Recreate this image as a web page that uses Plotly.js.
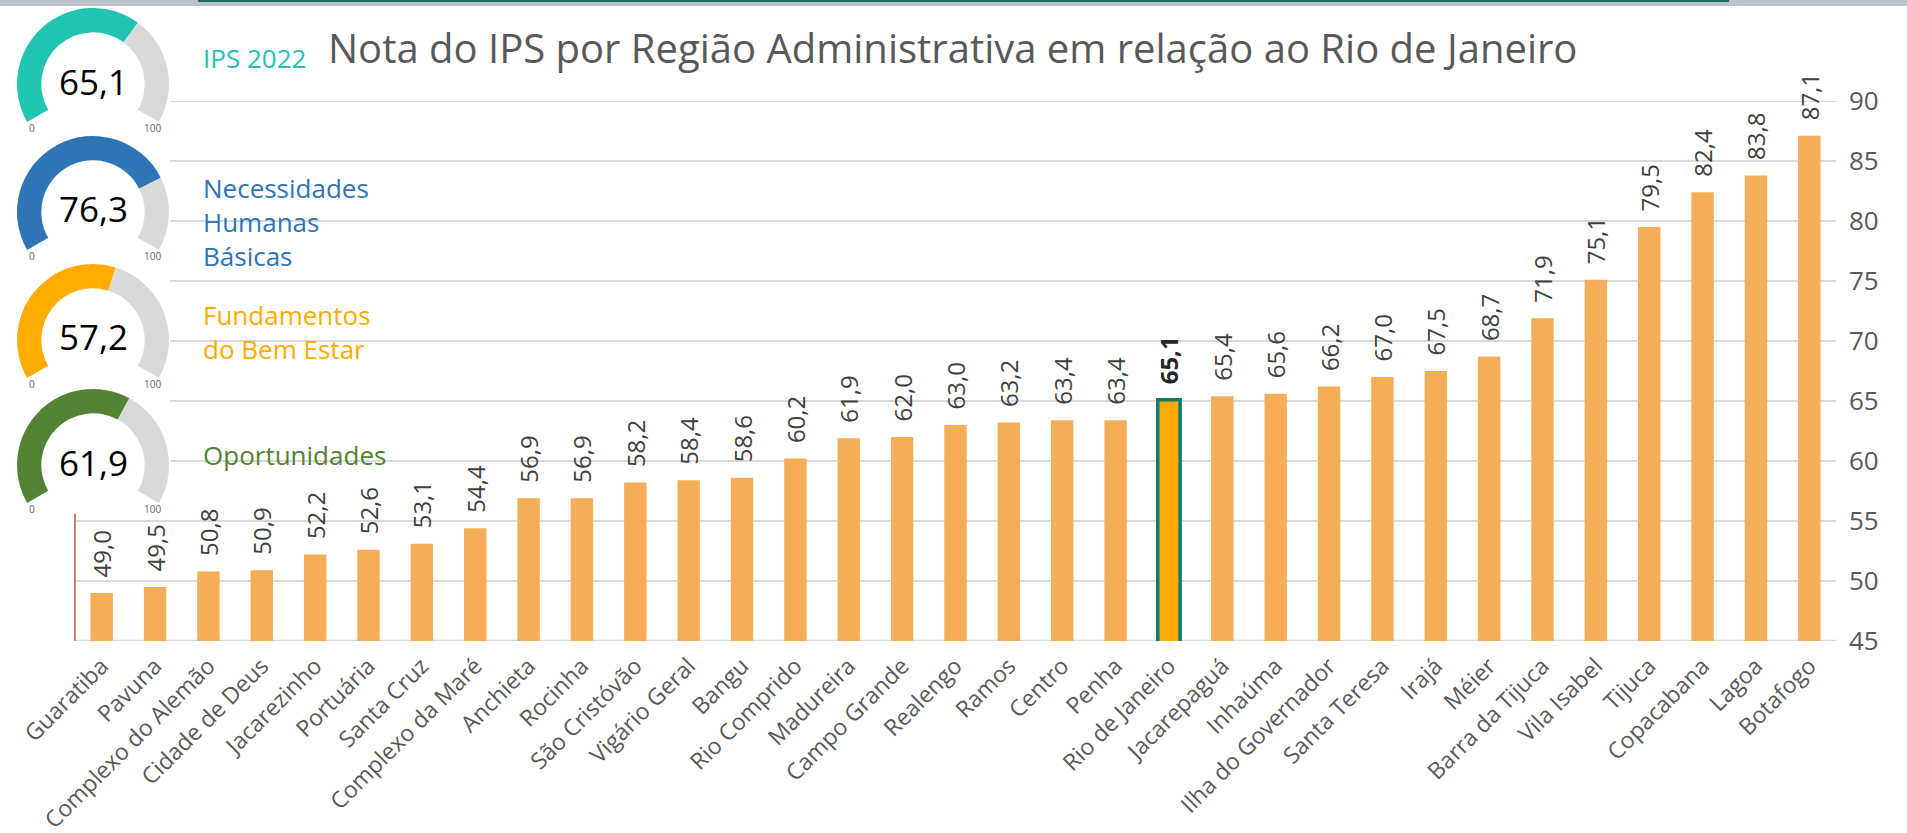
<!DOCTYPE html>
<html>
<head>
<meta charset="utf-8">
<script src="https://cdn.plot.ly/plotly-3.0.1.min.js"></script>
<style>
  body { margin: 0; background: #fff; }
  #myPlot { width: 1907px; height: 833px; }
</style>
</head>
<body>
<div id="myPlot"></div>
<script>
// Regiões administrativas e nota do IPS 2022
var regioes = ["Guaratiba", "Pavuna", "Complexo do Alemão", "Cidade de Deus", "Jacarezinho",
    "Portuária", "Santa Cruz", "Complexo da Maré", "Anchieta", "Rocinha", "São Cristóvão",
    "Vigário Geral", "Bangu", "Rio Comprido", "Madureira", "Campo Grande", "Realengo", "Ramos",
    "Centro", "Penha", "Rio de Janeiro", "Jacarepaguá", "Inhaúma", "Ilha do Governador",
    "Santa Teresa", "Irajá", "Méier", "Barra da Tijuca", "Vila Isabel", "Tijuca",
    "Copacabana", "Lagoa", "Botafogo"];
var notas = [49.0, 49.5, 50.8, 50.9, 52.2, 52.6, 53.1, 54.4, 56.9, 56.9, 58.2,
    58.4, 58.6, 60.2, 61.9, 62.0, 63.0, 63.2, 63.4, 63.4, 65.1, 65.4, 65.6, 66.2,
    67.0, 67.5, 68.7, 71.9, 75.1, 79.5, 82.4, 83.8, 87.1];
var destaque = "Rio de Janeiro";

// Indicadores dos velocímetros
var gaugeNomes = ["IPS 2022", "Necessidades<br>Humanas<br>Básicas", "Fundamentos<br>do Bem Estar", "Oportunidades"];
var gaugeValores = [65.1, 76.3, 57.2, 61.9];
var gaugeCores = ["#20C4B0", "#2E75B6", "#FFAB00", "#548235"];

var yTicks = [45, 50, 55, 60, 65, 70, 75, 80, 85, 90];

var W = 1907, H = 833;
var FONT = "Open Sans";

function fmt(v) { return v.toFixed(1).replace(".", ","); }

var barText = [], barColors = [], lineColors = [], lineWidths = [], textColors = [];
for (var i = 0; i < regioes.length; i++) {
    var hi = regioes[i] === destaque;
    barText.push(hi ? "\u00A0\u00A0<b>" + fmt(notas[i]) + "</b>" : "\u00A0\u00A0" + fmt(notas[i]));
    barColors.push(hi ? "#FFA800" : "#F4AE57");
    lineColors.push(hi ? "#0F7B6C" : "#F4AE57");
    lineWidths.push(hi ? 3.5 : 0);
    textColors.push(hi ? "#262626" : "#404040");
}

var data = [{
    type: "bar",
    x: regioes,
    y: notas,
    text: barText,
    textposition: "outside",
    textangle: -90,
    constraintext: "none",
    cliponaxis: false,
    textfont: { family: FONT, size: 24, color: textColors },
    marker: { color: barColors, line: { color: lineColors, width: lineWidths } },
    hoverinfo: "skip",
    showlegend: false
}];

// velocímetros desenhados como rosca de 240 graus
var gx = 93, R = 76;
var gy = [84, 212, 340, 465];
var annotations = [];
for (var g = 0; g < gaugeValores.length; g++) {
    var cy = gy[g];
    data.push({
        type: "pie",
        values: [gaugeValores[g], 100 - gaugeValores[g], 50],
        marker: { colors: [gaugeCores[g], "#D9D9D9", "rgba(0,0,0,0)"], line: { width: 0 } },
        hole: 0.68,
        sort: false,
        direction: "clockwise",
        rotation: -120,
        textinfo: "none",
        hoverinfo: "skip",
        showlegend: false,
        domain: { x: [(gx - R) / W, (gx + R) / W], y: [1 - (cy + R) / H, 1 - (cy - R) / H] }
    });
    annotations.push({
        xref: "paper", yref: "paper", x: gx / W, y: 1 - (cy - 3) / H,
        xanchor: "center", yanchor: "middle",
        text: fmt(gaugeValores[g]), showarrow: false,
        font: { family: FONT, size: 35, color: "#000" }
    });
    annotations.push({
        xref: "paper", yref: "paper", x: (gx - 61) / W, y: 1 - (cy + 44) / H,
        xanchor: "center", yanchor: "middle",
        text: "0", showarrow: false, font: { family: FONT, size: 10, color: "#666" }
    });
    annotations.push({
        xref: "paper", yref: "paper", x: (gx + 59) / W, y: 1 - (cy + 44) / H,
        xanchor: "center", yanchor: "middle",
        text: "100", showarrow: false, font: { family: FONT, size: 10, color: "#666" }
    });
}
// rótulos ao lado dos velocímetros
var labelY = [58, 222, 332, 455];
for (var g = 0; g < gaugeNomes.length; g++) {
    annotations.push({
        xref: "paper", yref: "paper", x: 201 / W, y: 1 - labelY[g] / H,
        xanchor: "left", yanchor: "middle", align: "left",
        text: gaugeNomes[g], showarrow: false,
        font: { family: FONT, size: 26, color: gaugeCores[g] }
    });
}
annotations.push({
    xref: "paper", yref: "paper", x: 326 / W, y: 1 - 48 / H,
    xanchor: "left", yanchor: "middle",
    text: "Nota do IPS por Região Administrativa em relação ao Rio de Janeiro",
    showarrow: false,
    font: { family: FONT, size: 40, color: "#595959" }
});

// linhas de grade; acima de 55 começam depois dos velocímetros
var shapes = [];
var gridStart = (170 - 75) / 1761;
yTicks.forEach(function (t) {
    shapes.push({
        type: "line", xref: "x domain", yref: "y",
        x0: t > 55 ? gridStart : 0, x1: 1, y0: t, y1: t,
        line: { color: "#D9D9D9", width: t === 45 ? 2.5 : 1.8 }, layer: "below"
    });
});
shapes.push(
    // faixa de imagem no topo
    { type: "rect", xref: "paper", yref: "paper", x0: 0, x1: 1, y0: 1 - 6 / H, y1: 1,
      fillcolor: "#BCC3C8", line: { width: 0 }, layer: "above" },
    { type: "rect", xref: "paper", yref: "paper", x0: 198 / W, x1: 1729 / W, y0: 1 - 2 / H, y1: 1,
      fillcolor: "#1F6A62", line: { width: 0 }, layer: "above" },
    // linha vermelha à esquerda
    { type: "line", xref: "x domain", yref: "y", x0: 0, x1: 0, y0: 45, y1: 55.6,
      line: { color: "#C0504D", width: 1.5 }, layer: "above" }
);

var layout = {
    width: W, height: H,
    margin: { l: 0, r: 0, t: 0, b: 0 },
    paper_bgcolor: "#fff", plot_bgcolor: "#fff",
    bargap: 0.58,
    font: { family: FONT, color: "#595959" },
    xaxis: {
        domain: [75 / W, 1836 / W],
        type: "category",
        tickangle: -45,
        tickfont: { family: FONT, size: 23, color: "#595959" },
        ticks: "",
        ticklabelstandoff: 6,
        showgrid: false,
        showline: false,
        automargin: false,
        fixedrange: true
    },
    yaxis: {
        domain: [1 - 641 / H, 1 - 101 / H],
        range: [45, 90],
        side: "right",
        tickvals: yTicks,
        ticktext: yTicks.map(String),
        tickfont: { family: FONT, size: 26, color: "#595959" },
        ticks: "",
        ticklabelstandoff: 12,
        showgrid: false,
        zeroline: false,
        showline: false,
        automargin: false,
        fixedrange: true
    },
    shapes: shapes,
    annotations: annotations
};

Plotly.newPlot("myPlot", data, layout, { displayModeBar: false, staticPlot: true });
</script>
</body>
</html>
